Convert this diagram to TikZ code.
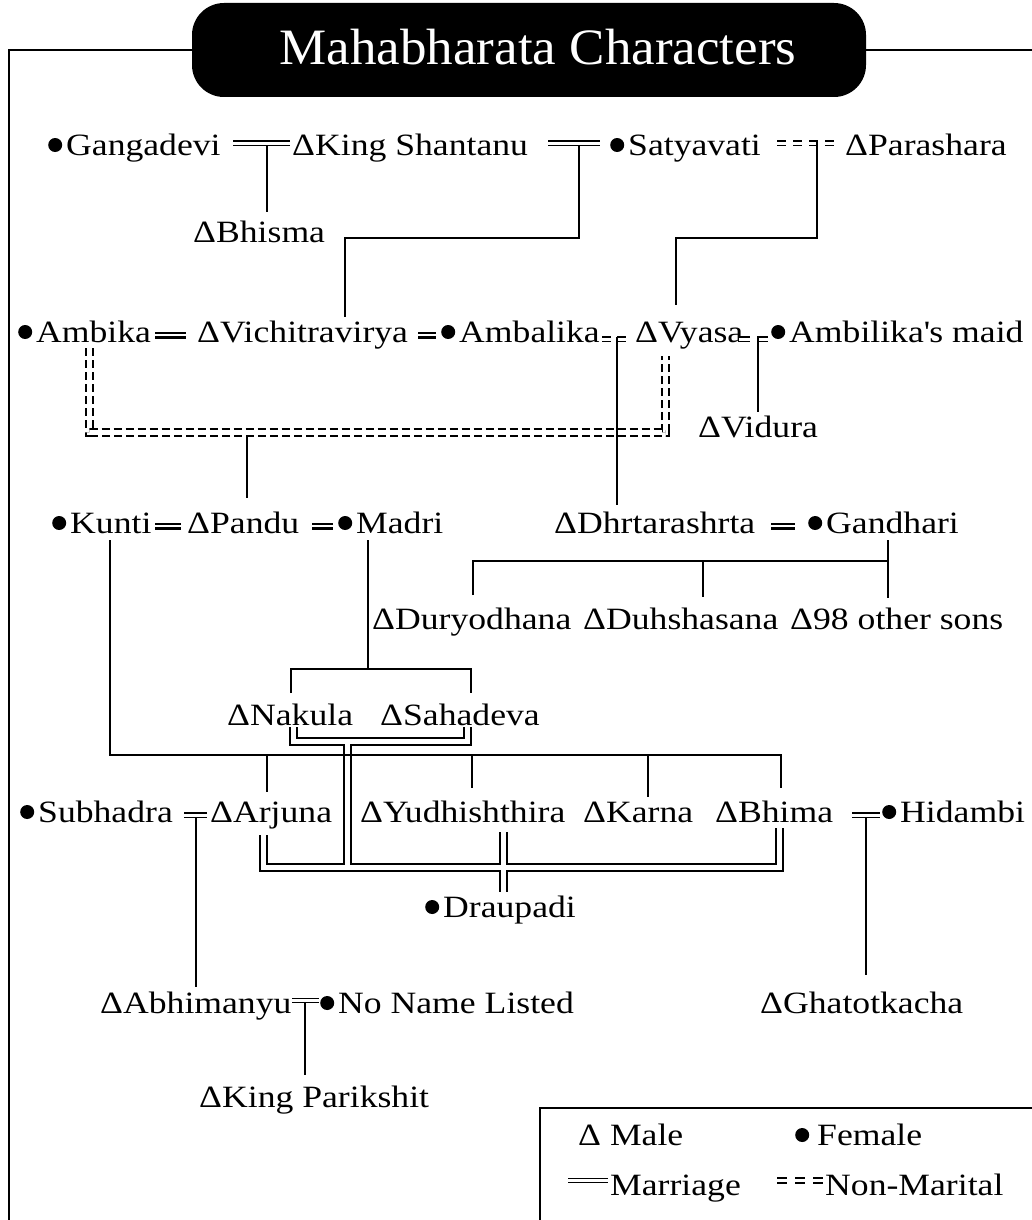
\documentclass[tikz,border=0pt]{standalone}
\usepackage{fontspec}
\setmainfont{Liberation Serif}[FakeStretch=1.15]
\newfontfamily\titlefont{Liberation Serif}[FakeStretch=1.04]
\newcommand{\fem}{\tikz[baseline=0pt]\fill[black] (7pt,10pt) circle[radius=7pt];\hspace{4pt}}
\begin{document}
\begin{tikzpicture}[x=1pt,y=-1pt,
  person/.style={anchor=base west, inner sep=0pt, font=\fontsize{31}{37}\selectfont},
  single/.style={line width=2pt},
  marr/.style={double, double distance=3pt, line width=1.4pt},
  eqline/.style={double, double distance=2.6pt, line width=2.2pt},
  nonmar/.style={double, double distance=3pt, line width=1.6pt, dash pattern=on 9pt off 6pt},
  dbl/.style={double, double distance=5pt, line width=2pt},
  dashdbl/.style={double, double distance=5pt, line width=2pt, dash pattern=on 8pt off 4pt},
  titlebox/.style={fill=black, rounded corners=32pt, minimum width=674pt, minimum height=94pt, inner sep=0pt}]
\useasboundingbox (0,0) rectangle (1032,1220);

% title and frame
\node[titlebox] (titlebox) at (529,50) {};
\node[anchor=base, inner sep=0pt, text=white, font=\titlefont\fontsize{51}{60}\selectfont] (title) at (538,65) {Mahabharata Characters};
\draw[single] (9,1225) -- (9,50) -- (titlebox.west);
\draw[single] (titlebox.east) -- (1040,50);

% people
\node[person] (gang) at (48,155) {\fem Gangadevi};
\node[person] (shan) at (292,155) {ΔKing Shantanu};
\node[person] (satya) at (610,155) {\fem Satyavati};
\node[person] (para) at (845,155) {ΔParashara};
\node[person] (bhisma) at (193,242) {ΔBhisma};

\node[person] (ambika) at (18,342) {\fem Ambika};
\node[person] (vichi) at (197,342) {ΔVichitravirya};
\node[person] (ambalika) at (441,342) {\fem Ambalika};
\node[person] (vyasa) at (635,342) {ΔVyasa};
\node[person] (maid) at (771,342) {\fem Ambilika\textquotesingle s maid};
\node[person] (vidura) at (698,437) {ΔVidura};

\node[person] (kunti) at (52,533) {\fem Kunti};
\node[person] (pandu) at (187,533) {ΔPandu};
\node[person] (madri) at (338,533) {\fem Madri};
\node[person] (dhrt) at (554,533) {ΔDhrtarashrta};
\node[person] (gandhari) at (808,533) {\fem Gandhari};

\node[person] (dury) at (372,629) {ΔDuryodhana};
\node[person] (duhs) at (583,629) {ΔDuhshasana};
\node[person] (others) at (790,629) {Δ98 other sons};

\node[person] (nakula) at (227,725) {ΔNakula};
\node[person] (sahadeva) at (380,725) {ΔSahadeva};

\node[person] (subhadra) at (20,822) {\fem Subhadra};
\node[person] (arjuna) at (210,822) {ΔArjuna};
\node[person] (yudh) at (360,822) {ΔYudhishthira};
\node[person] (karna) at (583,822) {ΔKarna};
\node[person] (bhima) at (715,822) {ΔBhima};
\node[person] (hidambi) at (882,822) {\fem Hidambi};

\node[person] (draupadi) at (425,917) {\fem Draupadi};

\node[person] (abhi) at (100,1013) {ΔAbhimanyu};
\node[person] (noname) at (320,1013) {\fem No Name Listed};
\node[person] (ghat) at (760,1013) {ΔGhatotkacha};
\node[person] (parik) at (199,1107) {ΔKing Parikshit};

% marriages row 1
\draw[marr] (233,143) -- (290,143);
\draw[marr] (548,143) -- (600,143);
\draw[nonmar, dash pattern=on 9pt off 7pt] (777,143) -- (836,143);
\draw[single] (267,145) -- (267,212);
\draw[single] (578.5,145) -- (578.5,238) -- (345,238) -- (345,317);
\draw[single] (817,141) -- (817,238) -- (676,238) -- (676,305);

% row 2
\draw[eqline] (155,335) -- (186,335);
\draw[eqline] (418,335) -- (436,335);
\draw[nonmar] (602,339) -- (626,339);
\draw[nonmar, dash pattern=on 11pt off 7pt] (739,339) -- (768,339);
\draw[single] (617,337) -- (617,505);
\draw[single] (758,337) -- (758,412);
\draw[dashdbl] (89.5,348) -- (89.5,432) -- (665.5,432) -- (665.5,356);
\draw[single] (247,436) -- (247,498);

% row 3
\draw[eqline] (155,526) -- (181,526);
\draw[eqline] (312,526) -- (333,526);
\draw[eqline] (771,526) -- (795,526);
\draw[single] (888,540) -- (888,598);
\draw[single] (473,595) -- (473,561) -- (888,561);
\draw[single] (703,561) -- (703,597);

% Draupadi marriages
\draw[dbl] (293,727) -- (293,741.5) -- (467.5,741.5) -- (467.5,727)
  (347.5,741.5) -- (347.5,867.5)
  (263,835) -- (263,867.5) -- (779.5,867.5) -- (779.5,828)
  (503.5,832) -- (503.5,892);

% Madri and Kunti children
\draw[single] (368,540) -- (368,669);
\draw[single] (291,693) -- (291,669) -- (471,669) -- (471,693);
\draw[single] (110,540) -- (110,755) -- (781,755) -- (781,788);
\draw[single] (267,755) -- (267,792);
\draw[single] (472,755) -- (472,788);
\draw[single] (648,755) -- (648,797);

% row 6 and below
\draw[marr] (184,815) -- (207,815);
\draw[single] (195.5,817) -- (195.5,987);
\draw[marr] (852,815) -- (880,815);
\draw[single] (866,817) -- (866,975);
\draw[marr] (292,1000.5) -- (319,1000.5);
\draw[single] (305,1002) -- (305,1075);

% legend
\draw[single] (1040,1108) -- (540,1108) -- (540,1225);
\node[person] (lmale) at (578,1145) {Δ Male};
\node[person] (lfemale) at (795,1145) {\fem\hspace{4pt}Female};
\draw[marr] (568,1180.5) -- (608,1180.5);
\node[person] (lmarr) at (610,1195) {Marriage};
\draw[nonmar, dash pattern=on 10pt off 8pt] (777,1180.5) -- (823,1180.5);
\node[person] (lnon) at (825,1195) {Non-Marital};
\end{tikzpicture}
\end{document}
